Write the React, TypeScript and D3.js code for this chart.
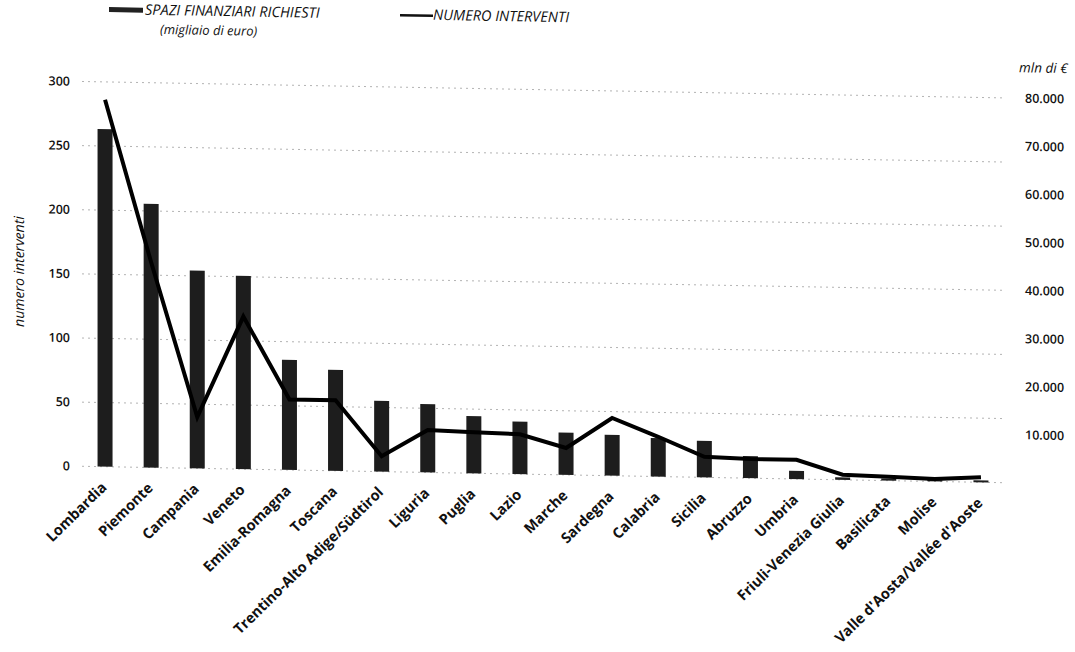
import React from 'react'
import * as d3 from 'd3'

const categories = [
  'Lombardia', 'Piemonte', 'Campania', 'Veneto', 'Emilia-Romagna', 'Toscana',
  'Trentino-Alto Adige/Südtirol', 'Liguria', 'Puglia', 'Lazio', 'Marche',
  'Sardegna', 'Calabria', 'Sicilia', 'Abruzzo', 'Umbria',
  'Friuli-Venezia Giulia', 'Basilicata', 'Molise', "Valle d'Aosta/Vallée d'Aoste",
]

// spazi finanziari richiesti (right axis, mln di €)
const spazi = [
  70200, 54800, 41100, 40200, 22900, 21000, 14700, 14200, 11900, 10900,
  8800, 8500, 8000, 7600, 4600, 1700, 500, 400, 300, 400,
]

// numero interventi (left axis)
const interventi = [
  286, 160, 40, 119, 55, 55, 12, 33, 32, 31,
  21, 45, 31, 16, 15, 15, 4, 3, 2, 4,
]

const leftTicks = [0, 50, 100, 150, 200, 250, 300]
const rightTicks = [10000, 20000, 30000, 40000, 50000, 60000, 70000, 80000]

const W = 1075
const H = 652
const FONT = '"Open Sans", Lato, sans-serif'
const SKEW = 0.0178 // the scan is slightly tilted

const itFormat = d3.formatLocale({
  decimal: ',', thousands: '.', grouping: [3], currency: ['', ' €'],
}).format(',')

export default function App() {
  const x = d3.scaleBand().domain(categories).range([82, 1004]).padding(0)
  const yL = d3.scaleLinear().domain([0, 300]).range([466.7, 81.9])
  const yR = d3.scaleLinear().domain([0, 80000]).range([466.7, 81.9])
  const barW = 15

  const line = d3.line<number>()
    .x((_, i) => (x(categories[i]) as number) + x.bandwidth() / 2)
    .y(d => yL(d))

  return (
    <div style={{ position: 'fixed', left: 0, top: 0, background: '#fff' }}>
      <svg width={W} height={H} style={{ display: 'block', fontFamily: FONT }}>
        <rect width={W} height={H} fill="#fff" />
        <g transform={`matrix(1,${SKEW},0,1,0,${-SKEW * 105})`}>
          {/* legend */}
          <rect x={109} y={7} width={34} height={5} fill="#222" />
          <text x={145} y={14} fontSize={14.5} fontStyle="italic" fill="#111">SPAZI FINANZIARI RICHIESTI</text>
          <text x={160} y={33} fontSize={13} fontStyle="italic" fill="#111">(migliaio di euro)</text>
          <line x1={400} x2={433} y1={10} y2={10} stroke="#111" strokeWidth={2.5} />
          <text x={433} y={14} fontSize={14.5} fontStyle="italic" fill="#111">NUMERO INTERVENTI</text>

          {/* gridlines */}
          {leftTicks.map(t => (
            <line key={t} x1={82} x2={1004} y1={yL(t)} y2={yL(t)}
              stroke="#888" strokeWidth={0.9} strokeDasharray="2 4" opacity={0.7} />
          ))}

          {/* left axis */}
          {leftTicks.map(t => (
            <text key={t} x={70} y={yL(t)} dy="0.35em" textAnchor="end"
              fontSize={12.5} fontWeight={600} fill="#111">{t}</text>
          ))}
          <text transform={`translate(24,273) rotate(-90)`}
            textAnchor="middle" fontSize={14} fontStyle="italic" fill="#111">numero interventi</text>

          {/* right axis */}
          {rightTicks.map(t => (
            <text key={t} x={1025} y={yR(t)} dy="0.35em"
              fontSize={12.5} fontWeight={600} fill="#111">{itFormat(t)}</text>
          ))}
          <text x={1019} y={56} fontSize={13.5} fontStyle="italic" fill="#111">mln di €</text>

          {/* bars */}
          {spazi.map((v, i) => {
            const cx = (x(categories[i]) as number) + x.bandwidth() / 2
            return (
              <rect key={categories[i]} x={cx - barW / 2} y={yR(v)} width={barW}
                height={yR(0) - yR(v)} fill="#1d1d1d" />
            )
          })}

          {/* line */}
          <path d={line(interventi) as string} fill="none" stroke="#000"
            strokeWidth={4} strokeLinejoin="miter" />

          {/* category labels */}
          {categories.map(c => {
            const cx = (x(c) as number) + x.bandwidth() / 2
            return (
              <text key={c} transform={`translate(${cx - 1},${yL(0) + 18}) rotate(-45)`}
                textAnchor="end" dy="0.35em" fontSize={14.5} fontWeight={700} fill="#111">{c}</text>
            )
          })}
        </g>
      </svg>
    </div>
  )
}
